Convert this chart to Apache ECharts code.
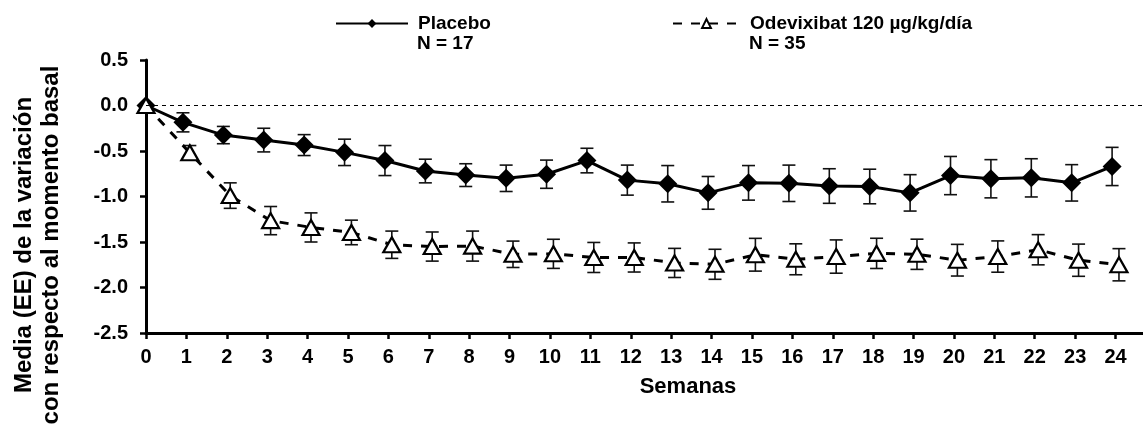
<!DOCTYPE html>
<html>
<head>
<meta charset="utf-8">
<script src="https://cdn.jsdelivr.net/npm/echarts@6/dist/echarts.min.js"></script>
<style>
  html, body { margin: 0; padding: 0; background: #fff; }
  #chart { width: 1143px; height: 429px; }
</style>
</head>
<body>
<div id="chart"></div>
<script>
// ---- Data ----
const weeks = [0,1,2,3,4,5,6,7,8,9,10,11,12,13,14,15,16,17,18,19,20,21,22,23,24];
const placeboMean = [0, -0.185, -0.325, -0.38, -0.435, -0.515, -0.605, -0.72, -0.765, -0.80, -0.755, -0.605, -0.82, -0.86, -0.96, -0.85, -0.855, -0.885, -0.89, -0.96, -0.77, -0.805, -0.795, -0.85, -0.67];
const placeboSE   = [0, 0.105, 0.095, 0.13, 0.115, 0.145, 0.165, 0.13, 0.125, 0.145, 0.155, 0.135, 0.165, 0.20, 0.18, 0.19, 0.20, 0.19, 0.19, 0.20, 0.21, 0.21, 0.21, 0.20, 0.21];
const odeMean = [0, -0.52, -0.99, -1.265, -1.34, -1.395, -1.53, -1.55, -1.545, -1.635, -1.63, -1.67, -1.67, -1.73, -1.745, -1.64, -1.69, -1.66, -1.625, -1.635, -1.70, -1.66, -1.585, -1.70, -1.75];
const odeSE   = [0, 0.08, 0.14, 0.155, 0.16, 0.135, 0.15, 0.16, 0.165, 0.145, 0.16, 0.165, 0.16, 0.16, 0.165, 0.18, 0.17, 0.183, 0.166, 0.166, 0.174, 0.172, 0.166, 0.177, 0.177];
const yTicks = [-2.5, -2.0, -1.5, -1.0, -0.5, 0.0, 0.5];
const legendNames = ['Placebo', 'Odevixibat 120 µg/kg/día'];
const legendN = ['N = 17', 'N = 35'];
const xTitle = 'Semanas';
const yTitle = 'Media (EE) de la variación\ncon respecto al momento basal';

// ---- Styling / layout ----
const FONT = '"Liberation Sans", Arial, sans-serif';
const JIT = 0.085; // horizontal offset between groups (week units)
const offX = (w, s) => (w === 0 ? w : w + s * JIT);

const placeboPts = weeks.map((w, i) => [offX(w, -1), placeboMean[i]]);
const odePts = weeks.map((w, i) => [offX(w, 1), odeMean[i]]);
const placeboErr = weeks.map((w, i) => [offX(w, -1), placeboMean[i] - placeboSE[i], placeboMean[i] + placeboSE[i]]).filter((d, i) => placeboSE[i] > 0);
const odeErr = weeks.map((w, i) => [offX(w, 1), odeMean[i] - odeSE[i], odeMean[i] + odeSE[i]]).filter((d, i) => odeSE[i] > 0);

function renderErr(params, api) {
  const x = api.value(0), lo = api.value(1), hi = api.value(2);
  const pTop = api.coord([x, hi]);
  const pBot = api.coord([x, lo]);
  const w = 6.5;
  const st = { stroke: '#111', lineWidth: 1.6 };
  return {
    type: 'group',
    children: [
      { type: 'line', shape: { x1: pTop[0], y1: pTop[1], x2: pBot[0], y2: pBot[1] }, style: st },
      { type: 'line', shape: { x1: pTop[0] - w, y1: pTop[1], x2: pTop[0] + w, y2: pTop[1] }, style: st },
      { type: 'line', shape: { x1: pBot[0] - w, y1: pBot[1], x2: pBot[0] + w, y2: pBot[1] }, style: st }
    ]
  };
}

const legendCommon = {
  top: 14,
  padding: 0,
  itemHeight: 11,
  textStyle: { fontFamily: FONT, fontWeight: 'bold', fontSize: 19, color: '#000', padding: [0, 0, 0, 5] }
};

const chart = echarts.init(document.getElementById('chart'), null, { renderer: 'canvas' });
chart.setOption({
  animation: false,
  backgroundColor: '#fff',
  textStyle: { fontFamily: FONT },
  grid: { left: 146, right: 0, top: 60, bottom: 96, containLabel: false },
  legend: [
    Object.assign({ data: [legendNames[0]], left: 335, itemWidth: 72 }, legendCommon),
    Object.assign({ data: [legendNames[1]], left: 672, itemWidth: 67 }, legendCommon)
  ],
  xAxis: {
    type: 'value',
    min: 0,
    max: 24.68,
    interval: 1,
    axisLine: { show: true, onZero: false, lineStyle: { color: '#000', width: 3 } },
    axisTick: { show: true, length: 6, lineStyle: { color: '#000', width: 2.5 }, customValues: weeks },
    axisLabel: { customValues: weeks, color: '#000', fontWeight: 'bold', fontSize: 20, fontFamily: FONT, margin: 14 },
    splitLine: { show: false }
  },
  yAxis: {
    type: 'value',
    min: -2.5,
    max: 0.5,
    interval: 0.5,
    axisLine: { show: true, onZero: false, lineStyle: { color: '#000', width: 3 } },
    axisTick: { show: true, length: 6, lineStyle: { color: '#000', width: 2.5 }, customValues: yTicks },
    axisLabel: { customValues: yTicks, color: '#000', fontWeight: 'bold', fontSize: 20, fontFamily: FONT, margin: 18,
      formatter: v => v.toFixed(1) },
    splitLine: { show: false }
  },
  series: [
    {
      name: 'errPlacebo', type: 'custom', renderItem: renderErr, data: placeboErr, z: 1,
      encode: { x: 0, y: [1, 2] }, silent: true
    },
    {
      name: 'errOde', type: 'custom', renderItem: renderErr, data: odeErr, z: 1,
      encode: { x: 0, y: [1, 2] }, silent: true
    },
    {
      name: legendNames[0], type: 'line', data: placeboPts, z: 3,
      symbol: 'diamond', symbolSize: 19, showAllSymbol: true,
      lineStyle: { color: '#000', width: 3, type: 'solid' },
      itemStyle: { color: '#000', borderColor: '#000', borderWidth: 0 },
      markLine: {
        silent: true, symbol: ['none', 'none'], label: { show: false },
        lineStyle: { color: '#000', width: 1, type: [4, 4] },
        data: [{ yAxis: 0 }]
      }
    },
    {
      name: legendNames[1], type: 'line', data: odePts, z: 4,
      symbol: 'triangle', symbolSize: [17, 15], showAllSymbol: true,
      lineStyle: { color: '#000', width: 3, type: [9, 9] },
      itemStyle: { color: '#fff', borderColor: '#000', borderWidth: 2.2 }
    }
  ],
  graphic: [
    { type: 'text', x: 38, y: 245, rotation: Math.PI / 2,
      style: { text: yTitle, font: 'bold 24px ' + FONT, fill: '#000', lineHeight: 27,
        align: 'center', verticalAlign: 'middle', textAlign: 'center', textVerticalAlign: 'middle' } },
    { type: 'text', x: 688, y: 387,
      style: { text: xTitle, font: 'bold 22px ' + FONT, fill: '#000',
        align: 'center', verticalAlign: 'middle', textAlign: 'center', textVerticalAlign: 'middle' } },
    { type: 'text', x: 417, y: 43.5,
      style: { text: legendN[0], font: 'bold 19px ' + FONT, fill: '#000',
        align: 'left', verticalAlign: 'middle', textAlign: 'left', textVerticalAlign: 'middle' } },
    { type: 'text', x: 749, y: 43.5,
      style: { text: legendN[1], font: 'bold 19px ' + FONT, fill: '#000',
        align: 'left', verticalAlign: 'middle', textAlign: 'left', textVerticalAlign: 'middle' } }
  ]
});
</script>
</body>
</html>
